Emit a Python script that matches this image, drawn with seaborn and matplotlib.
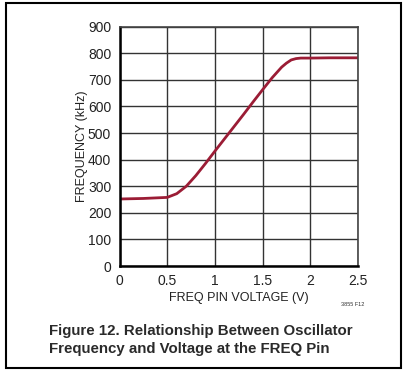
import numpy as np
import pandas as pd
import matplotlib
matplotlib.use("Agg")
import matplotlib.pyplot as plt
import seaborn as sns
from matplotlib.patches import Rectangle

voltage = [0.0, 0.25, 0.5, 0.6, 0.7, 0.8, 0.9, 1.0, 1.1, 1.2, 1.3, 1.4, 1.5, 1.6, 1.7, 1.75, 1.8, 1.85, 1.9, 2.0, 2.2, 2.5]
frequency = [252, 254, 258, 272, 300, 340, 385, 432, 478, 524, 570, 617, 663, 708, 748, 763, 775, 780, 782, 782, 783, 783]
xticks = [0, 0.5, 1, 1.5, 2, 2.5]
xticklabels = ["0", "0.5", "1", "1.5", "2", "2.5"]
yticks = [0, 100, 200, 300, 400, 500, 600, 700, 800, 900]

df = pd.DataFrame({"v": voltage, "f": frequency})

sns.set_theme(style="white")
plt.rcParams["font.family"] = ["Liberation Sans", "DejaVu Sans"]

fig = plt.figure(figsize=(4.03, 3.71), dpi=100)
W, H = 403, 371
ax = fig.add_axes([119.5 / W, 1 - 266 / H, (358 - 119.5) / W, (266 - 26.7) / H])

sns.lineplot(data=df, x="v", y="f", ax=ax, color="#9b1c35", linewidth=2.0)

ax.set_xlim(0, 2.5)
ax.set_ylim(0, 900)
ax.set_xticks(xticks)
ax.set_xticklabels(xticklabels)
ax.set_yticks(yticks)
ax.grid(True, color="#333333", linewidth=1.0)
ax.set_axisbelow(True)
for s in ["left", "bottom"]:
    ax.spines[s].set_color("black")
    ax.spines[s].set_linewidth(1.8)
for s in ["top", "right"]:
    ax.spines[s].set_color("#444444")
    ax.spines[s].set_linewidth(1.2)
ax.tick_params(axis="both", length=0, labelsize=10, colors="#222222", pad=6)
ax.set_xlabel("FREQ PIN VOLTAGE (V)", fontsize=9, color="#222222", labelpad=3)
ax.set_ylabel("FREQUENCY (kHz)", fontsize=9, color="#222222")
ax.yaxis.set_label_coords((88 - 119.5) / 238.5, 0.5)

fig.text(353 / W, 1 - 304 / H, "3855 F12", fontsize=4, ha="center", va="center", color="#333333")
fig.text(49 / W, 1 - 340 / H, "Figure 12. Relationship Between Oscillator\nFrequency and Voltage at the FREQ Pin",
         fontsize=10.8, fontweight="bold", ha="left", va="center", color="#2a2a2a", linespacing=1.35)

fig.patches.append(Rectangle((6 / W, 3 / H), (401 - 6) / W, (368 - 3) / H, transform=fig.transFigure,
                             fill=False, edgecolor="black", linewidth=1.5))

fig.savefig("out.png", dpi=100)
